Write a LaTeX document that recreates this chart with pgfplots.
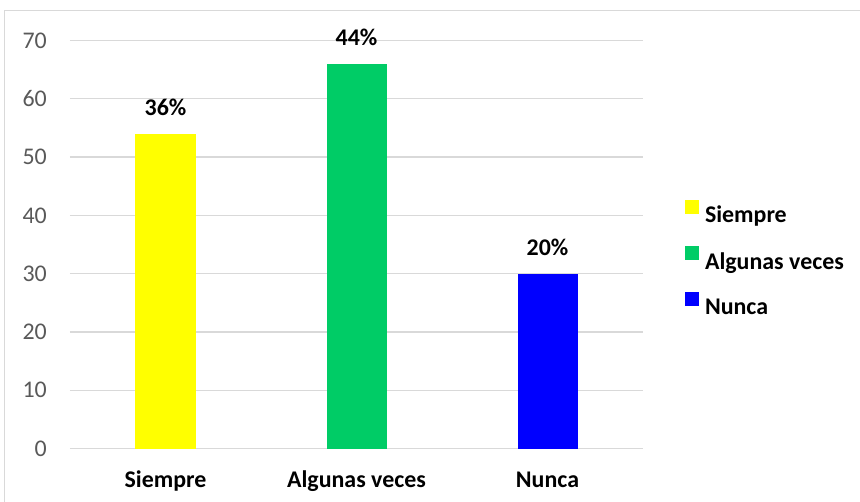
\documentclass[border=0pt]{standalone}
\usepackage{fontspec}
\setmainfont{Carlito}
\usepackage{pgfplots}
\pgfplotsset{compat=1.18}
\definecolor{amarillo}{HTML}{FFFF00}
\definecolor{verde}{HTML}{00CC66}
\definecolor{azul}{HTML}{0000FF}
\definecolor{rejilla}{HTML}{D9D9D9}
\definecolor{textogris}{HTML}{595959}
\begin{document}
\begin{tikzpicture}
\path[use as bounding box] (-70bp,-53.5bp) rectangle (790bp,448.5bp);
\draw[rejilla, line width=1bp] (-65bp,-70bp) -- (-65bp,437.5bp) -- (800bp,437.5bp);
\begin{axis}[
  at={(0,0)}, anchor=south west, scale only axis,
  width=573bp, height=408bp,
  xmin=-0.5, xmax=2.5, ymin=0, ymax=70,
  ytick={0,10,...,70},
  xtick={0,1,2}, xticklabels={Siempre, Algunas veces, Nunca},
  ymajorgrids, grid style={rejilla, line width=1.2bp},
  axis line style={draw=none}, major tick length=0pt,
  /pgf/number format/assume math mode=true,
  yticklabel style={font=\fontsize{24}{29}\selectfont, text=textogris, inner sep=0pt, anchor=east, xshift=-23bp},
  xticklabel style={font=\fontsize{24}{29}\selectfont\bfseries, text=black, inner sep=0pt, anchor=base, yshift=-38.5bp},
  ybar, bar width=60bp, bar shift=0pt,
  point meta=explicit symbolic,
  nodes near coords={\pgfplotspointmeta},
  nodes near coords style={font=\fontsize{24}{29}\selectfont\bfseries, text=black, inner sep=0pt, anchor=base, yshift=18bp},
  legend style={at={(1.073,0.610)}, anchor=north west, draw=none, fill=none, inner sep=0pt,
    font=\fontsize{24}{29}\selectfont\bfseries, row sep=19.5bp},
  legend cell align=left,
  legend image code/.code={\fill[#1] (0bp,1.5bp) rectangle (14bp,15.5bp); \path (18bp,0bp);},
]
\addplot[draw=none, fill=amarillo] coordinates {(0,54) [36\%]};
\addplot[draw=none, fill=verde] coordinates {(1,66) [44\%]};
\addplot[draw=none, fill=azul] coordinates {(2,30) [20\%]};
\legend{Siempre, Algunas veces, Nunca}
\end{axis}
\end{tikzpicture}
\end{document}
